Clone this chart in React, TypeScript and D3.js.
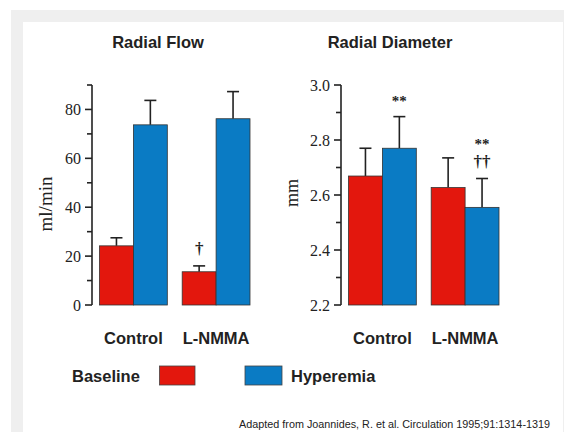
import React from "react";
import * as d3 from "d3";

const W = 565;
const H = 432;

const groups = ["Control", "L-NMMA"];
const series = ["Baseline", "Hyperemia"];
const colors = ["#e3170d", "#0a7bc4"];

// Radial flow (ml/min)
const flowMeans = [
  [24.2, 73.7],
  [13.6, 76.2],
];
const flowErr = [
  [27.5, 83.7],
  [16.0, 87.3],
];
const flowMarks = [
  ["", ""],
  ["†", ""],
];
const flowTicks = [0, 20, 40, 60, 80];
const flowMinor = [10, 30, 50, 70, 90];

// Radial diameter (mm)
const diaMeans = [
  [2.669, 2.77],
  [2.627, 2.555],
];
const diaErr = [
  [2.77, 2.885],
  [2.735, 2.66],
];
const diaMarks = [
  ["", "**"],
  ["", "**\n††"],
];
const diaTicks = [2.2, 2.4, 2.6, 2.8, 3.0];
const diaMinor = [2.3, 2.5, 2.7, 2.9];

const serif = "'Liberation Serif', 'DejaVu Serif', serif";
const sans = "'Liberation Sans', Arial, sans-serif";

type PanelProps = {
  title: string;
  axisX: number;
  barsX: [number, number];
  domain: [number, number];
  means: number[][];
  errs: number[][];
  marks: string[][];
  ticks: number[];
  minor: number[];
  fmt: (v: number) => string;
  yLabel: string;
  yLabelX: number;
  yLabelY: number;
  yLabelSize: number;
  titleX: number;
};

function Panel(p: PanelProps) {
  const y = d3.scaleLinear().domain(p.domain).range([305, 85]);
  const outer = d3.scaleBand().domain(groups).range(p.barsX).paddingInner(0.18);
  const inner = d3.scaleBand().domain(series).range([0, outer.bandwidth()]);
  return (
    <g>
      <text x={p.titleX} y={48} textAnchor="middle" fontFamily={sans} fontWeight="bold" fontSize={16.5} fill="#222">
        {p.title}
      </text>
      {groups.map((g, gi) =>
        series.map((s, si) => {
          const x0 = (outer(g) ?? 0) + (inner(s) ?? 0);
          const bw = inner.bandwidth();
          const cx = x0 + bw / 2;
          const top = y(p.means[gi][si]);
          const et = y(p.errs[gi][si]);
          const lines = p.marks[gi][si] ? p.marks[gi][si].split("\n") : [];
          return (
            <g key={g + s}>
              <line x1={cx} x2={cx} y1={top} y2={et} stroke="#222" strokeWidth={1.6} />
              <line x1={cx - 6} x2={cx + 6} y1={et} y2={et} stroke="#222" strokeWidth={1.6} />
              <rect x={x0} y={top} width={bw} height={305 - top} fill={colors[si]} stroke="#333" strokeWidth={0.8} />
              {lines.map((t, li) => {
                const isDagger = t.includes("†");
                return (
                  <text
                    key={li}
                    x={cx}
                    y={et - (isDagger ? 12 : 11) - (lines.length - 1 - li) * 19}
                    textAnchor="middle"
                    fontFamily={serif}
                    fontWeight="bold"
                    fontSize={isDagger ? 17 : 15}
                    fill="#222"
                  >
                    {t}
                  </text>
                );
              })}
            </g>
          );
        })
      )}
      <line x1={p.axisX} x2={p.axisX} y1={y(p.domain[1])} y2={305} stroke="#222" strokeWidth={1.6} />
      {p.ticks.map((t) => (
        <g key={"t" + t}>
          <line x1={p.axisX - 7} x2={p.axisX} y1={y(t)} y2={y(t)} stroke="#222" strokeWidth={1.6} />
          <text x={p.axisX - 11} y={y(t) + 5.5} textAnchor="end" fontFamily={serif} fontSize={16} fill="#222">
            {p.fmt(t)}
          </text>
        </g>
      ))}
      {p.minor.map((t) => (
        <line key={"m" + t} x1={p.axisX - 5} x2={p.axisX} y1={y(t)} y2={y(t)} stroke="#222" strokeWidth={1.6} />
      ))}
      <text
        transform={`translate(${p.yLabelX},${p.yLabelY}) rotate(-90)`}
        textAnchor="middle"
        fontFamily={serif}
        fontSize={p.yLabelSize}
        fill="#222"
      >
        {p.yLabel}
      </text>
      {groups.map((g) => (
        <text
          key={"c" + g}
          x={(outer(g) ?? 0) + outer.bandwidth() / 2}
          y={344}
          textAnchor="middle"
          fontFamily={sans}
          fontWeight="bold"
          fontSize={16.5}
          fill="#222"
        >
          {g}
        </text>
      ))}
    </g>
  );
}

export default function App() {
  return (
    <svg width={W} height={H} style={{ position: "absolute", left: 0, top: 0, background: "#fff" }}>
      <rect x={11} y={10} width={553} height={H - 10} fill="#efefef" />
      <rect x={23} y={22} width={540} height={H - 22} fill="#fff" />
      <Panel
        title="Radial Flow"
        titleX={158}
        axisX={92}
        barsX={[99.5, 250]}
        domain={[0, 90]}
        means={flowMeans}
        errs={flowErr}
        marks={flowMarks}
        ticks={flowTicks}
        minor={flowMinor}
        fmt={(v) => String(v)}
        yLabel="ml/min"
        yLabelX={52}
        yLabelY={204}
        yLabelSize={19}
      />
      <Panel
        title="Radial Diameter"
        titleX={390}
        axisX={341}
        barsX={[348.5, 499]}
        domain={[2.2, 3.0]}
        means={diaMeans}
        errs={diaErr}
        marks={diaMarks}
        ticks={diaTicks}
        minor={diaMinor}
        fmt={d3.format(".1f")}
        yLabel="mm"
        yLabelX={298}
        yLabelY={193}
        yLabelSize={18}
      />
      <g fontFamily={sans} fontWeight="bold" fontSize={16.5} fill="#222">
        <text x={72} y={382}>{series[0]}</text>
        <rect x={159.5} y={366} width={35.5} height={19} fill={colors[0]} stroke="#444" strokeWidth={0.8} />
        <rect x={245} y={366} width={37} height={19} fill={colors[1]} stroke="#444" strokeWidth={0.8} />
        <text x={291} y={382}>{series[1]}</text>
      </g>
      <text x={550} y={428} textAnchor="end" fontFamily={sans} fontSize={10.8} fill="#222">
        Adapted from Joannides, R. et al. Circulation 1995;91:1314-1319
      </text>
    </svg>
  );
}
